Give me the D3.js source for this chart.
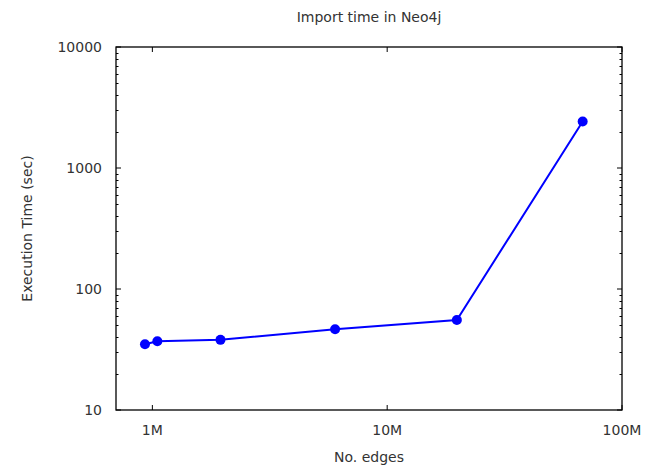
<!DOCTYPE html>
<html><head><meta charset="utf-8">
<script src="https://cdn.jsdelivr.net/npm/d3@7"></script>
<style>
body{margin:0;background:#fff;}
text{font-family:"DejaVu Sans",sans-serif;font-size:14px;fill:#333;}
</style></head>
<body><svg id="c" width="649" height="468"></svg>
<script>
const title = "Import time in Neo4j";
const xLabel = "No. edges";
const yLabel = "Execution Time (sec)";
const edges = [930000, 1050000, 1950000, 6000000, 19800000, 68000000];
const times = [35, 37, 38, 46.5, 55.5, 2420];
const xTicks = [1e6, 1e7, 1e8];
const xTickLabels = ["1M", "10M", "100M"];
const yTicks = [10, 100, 1000, 10000];
const yTickLabels = ["10", "100", "1000", "10000"];
const xDomain = [7e5, 1e8];
const yDomain = [10, 10000];

const W = 649, H = 468;
const m = {left:116, right:27, top:47, bottom:58};
const svg = d3.select("#c");
const x = d3.scaleLog().domain(xDomain).range([m.left, W - m.right]);
const y = d3.scaleLog().domain(yDomain).range([H - m.bottom, m.top]);
const x0 = m.left, x1 = W - m.right, y0 = H - m.bottom, y1 = m.top;

// minor y ticks
const yMinor = [];
for (let d = 10; d < 10000; d *= 10) for (let k = 2; k <= 9; k++) yMinor.push(d * k);

const g = svg.append("g");
// y major ticks left & right
g.selectAll(".ymaj").data(yTicks).join("line")
  .attr("x1", x0).attr("x2", x0 + 5).attr("y1", d => y(d)).attr("y2", d => y(d))
  .attr("stroke", "#000").attr("stroke-width", 1);
g.selectAll(".ymajr").data(yTicks).join("line")
  .attr("x1", x1).attr("x2", x1 - 5).attr("y1", d => y(d)).attr("y2", d => y(d))
  .attr("stroke", "#000").attr("stroke-width", 1);
g.selectAll(".ymin").data(yMinor).join("line")
  .attr("x1", x0).attr("x2", x0 + 2.5).attr("y1", d => Math.round(y(d)) + 0.5).attr("y2", d => Math.round(y(d)) + 0.5)
  .attr("stroke", "#000").attr("stroke-width", 1);
g.selectAll(".yminr").data(yMinor).join("line")
  .attr("x1", x1).attr("x2", x1 - 2.5).attr("y1", d => Math.round(y(d)) + 0.5).attr("y2", d => Math.round(y(d)) + 0.5)
  .attr("stroke", "#000").attr("stroke-width", 1);
// x major ticks bottom & top
g.selectAll(".xmaj").data(xTicks).join("line")
  .attr("x1", d => x(d)).attr("x2", d => x(d)).attr("y1", y0).attr("y2", y0 - 5)
  .attr("stroke", "#000").attr("stroke-width", 1);
g.selectAll(".xmajt").data(xTicks).join("line")
  .attr("x1", d => x(d)).attr("x2", d => x(d)).attr("y1", y1).attr("y2", y1 + 5)
  .attr("stroke", "#000").attr("stroke-width", 1);

// frame
svg.append("rect").attr("x", x0).attr("y", y1).attr("width", x1 - x0).attr("height", y0 - y1)
  .attr("fill", "none").attr("stroke", "#000").attr("stroke-width", 1.3);

// tick labels
svg.selectAll(".yl").data(yTicks).join("text")
  .attr("x", x0 - 14).attr("y", d => y(d) + 5).attr("text-anchor", "end")
  .text((d, i) => yTickLabels[i]);
svg.selectAll(".xl").data(xTicks).join("text")
  .attr("x", d => x(d)).attr("y", y0 + 25).attr("text-anchor", "middle")
  .text((d, i) => xTickLabels[i]);

// titles
svg.append("text").attr("x", (x0 + x1) / 2).attr("y", 22).attr("text-anchor", "middle").text(title);
svg.append("text").attr("x", (x0 + x1) / 2).attr("y", 462).attr("text-anchor", "middle").text(xLabel);
svg.append("text").attr("transform", `translate(32,${(y0 + y1) / 2}) rotate(-90)`)
  .attr("text-anchor", "middle").text(yLabel);

// data
const pts = edges.map((e, i) => [e, times[i]]);
svg.append("path").datum(pts)
  .attr("d", d3.line().x(d => x(d[0])).y(d => y(d[1])))
  .attr("fill", "none").attr("stroke", "#0000ff").attr("stroke-width", 2);
svg.selectAll(".pt").data(pts).join("circle")
  .attr("cx", d => x(d[0])).attr("cy", d => y(d[1])).attr("r", 5)
  .attr("fill", "#0000ff");
</script></body></html>
